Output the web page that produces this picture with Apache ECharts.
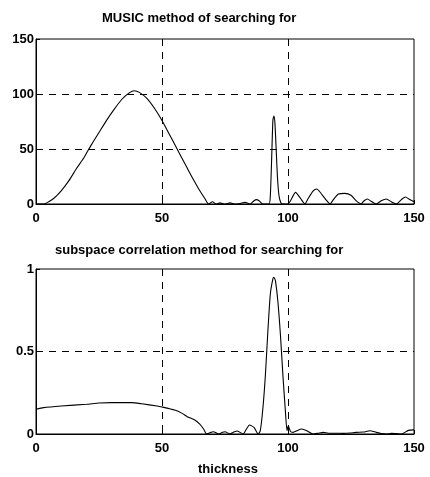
<!DOCTYPE html>
<html>
<head>
<meta charset="utf-8">
<script src="https://cdn.jsdelivr.net/npm/echarts@6/dist/echarts.min.js"></script>
<style>
  html, body { margin: 0; padding: 0; background: #fff; }
  #chart { width: 430px; height: 477px; }
</style>
</head>
<body>
<div id="chart"></div>
<script>
// MUSIC spectrum (top)
const musicX = [0, 3, 5, 7, 10, 13, 16, 19, 22, 25, 28, 31, 34, 37, 39, 41, 44, 47, 50, 53, 56, 59, 62, 65, 67, 68.5,
  70, 71.5, 73, 75, 77, 79, 81, 83, 85, 86.5, 87.5, 88.5, 90, 92.5, 93, 93.5, 94, 94.4, 94.8, 95.3, 95.8, 96.4, 97.2, 98,
  100, 101, 103, 105, 106.7, 108, 110, 111.4, 113, 115, 116.7, 118, 120, 122.5, 125, 127, 129, 130, 131.5, 133, 135,
  137, 139, 141, 143, 145, 146.6, 148, 150];
const musicY = [0, 0, 2, 5, 12, 21, 32, 42, 54, 65, 76, 86, 95, 101, 103, 101.5, 96, 87, 76, 63, 50, 37, 24, 12, 5, 0,
  2, 0, 1, 0, 1, 0, 0.5, 1.5, 0, 3, 4, 3, 0, 0, 8, 40, 76, 80, 74, 50, 25, 8, 1, 0,
  0, 3, 10.6, 5, 0, 5, 12, 13.6, 10, 4, 0, 4, 9, 9.7, 8, 3, 0, 2.5, 4.5, 2.5, 0,
  3, 4.5, 2, 0, 4, 6.4, 4.5, 2];

// subspace correlation (bottom)
const corrX = [0, 3, 10, 20, 25, 30, 38, 42, 48, 50, 55, 58, 60, 63, 65, 66.5, 67.7, 69, 70.4, 72.4, 74, 75, 77, 78.5, 79.9, 82.2,
  83.5, 84.7, 86.5, 88.2, 89, 90, 91, 92, 93, 94, 94.4, 95, 96, 97, 98, 99, 99.6, 100.1, 101, 102, 103.5, 105.4, 107.5, 110,
  112, 114, 116, 119, 122, 124.6, 127, 130, 132.5, 135, 137, 139.2, 141, 143, 145, 147.8, 150];
const corrY = [0.15, 0.16, 0.17, 0.18, 0.188, 0.19, 0.19, 0.183, 0.17, 0.164, 0.145, 0.125, 0.105, 0.085, 0.06, 0.03, 0, 0.008, 0.014, 0, 0.01, 0.014, 0, 0.012, 0.018, 0,
  0.03, 0.055, 0.04, 0, 0.02, 0.15, 0.35, 0.62, 0.85, 0.94, 0.95, 0.93, 0.8, 0.6, 0.35, 0.13, 0.02, 0.05, 0.015, 0.01, 0.02, 0.03, 0.02, 0,
  0.005, 0.01, 0.005, 0.005, 0.004, 0.006, 0.01, 0.012, 0.02, 0.01, 0.003, 0, 0.004, 0.002, 0, 0.022, 0.025];

const xTicks = [0, 50, 100, 150];

const pair = (xs, ys) => xs.map((x, i) => [x, ys[i]]);

const font = 'Liberation Sans, Arial, sans-serif';
const dash = { color: '#000', width: 1, type: [7, 6] };

function xAxis(gridIndex) {
  return {
    gridIndex, type: 'value', min: 0, max: 150, interval: 50,
    axisLine: { show: true, lineStyle: { color: '#000', width: 1 } },
    axisTick: { show: true, inside: true, length: 4, lineStyle: { color: '#000' } },
    axisLabel: { color: '#000', fontFamily: font, fontWeight: 'bold', fontSize: 13, margin: 8,
      formatter: v => xTicks.includes(v) ? String(v) : '' },
    splitLine: { show: true, showMinLine: false, showMaxLine: false, lineStyle: dash }
  };
}
function yAxis(gridIndex, max, interval) {
  return {
    gridIndex, type: 'value', min: 0, max, interval,
    axisLine: { show: true, lineStyle: { color: '#000', width: 1 } },
    axisTick: { show: true, inside: true, length: 4, lineStyle: { color: '#000' } },
    axisLabel: { color: '#000', fontFamily: font, fontWeight: 'bold', fontSize: 13, margin: 2 },
    splitLine: { show: true, showMinLine: false, showMaxLine: false, lineStyle: dash }
  };
}

const chart = echarts.init(document.getElementById('chart'), null, { renderer: 'canvas' });
chart.setOption({
  animation: false,
  backgroundColor: '#fff',
  title: [
    { text: 'MUSIC method of searching for', left: 102, top: 12, padding: 0,
      textStyle: { fontFamily: font, fontWeight: 'bold', fontSize: 13, color: '#000' } },
    { text: 'subspace correlation method for searching for', left: 55, top: 244, padding: 0,
      textStyle: { fontFamily: font, fontWeight: 'bold', fontSize: 13, color: '#000' } },
    { text: 'thickness', left: 198, top: 463, padding: 0,
      textStyle: { fontFamily: font, fontWeight: 'bold', fontSize: 13, color: '#000' } }
  ],
  grid: [
    { left: 36, top: 39, width: 378, height: 165, show: true, borderColor: '#000', borderWidth: 1 },
    { left: 36, top: 269, width: 378, height: 165, show: true, borderColor: '#000', borderWidth: 1 }
  ],
  xAxis: [xAxis(0), xAxis(1)],
  yAxis: [yAxis(0, 150, 50), yAxis(1, 1, 0.5)],
  series: [
    { type: 'line', xAxisIndex: 0, yAxisIndex: 0, data: pair(musicX, musicY), showSymbol: false,
      smooth: 0.2, lineStyle: { color: '#000', width: 1.1 } },
    { type: 'line', xAxisIndex: 1, yAxisIndex: 1, data: pair(corrX, corrY), showSymbol: false,
      smooth: 0.2, lineStyle: { color: '#000', width: 1.1 } }
  ]
});
</script>
</body>
</html>
